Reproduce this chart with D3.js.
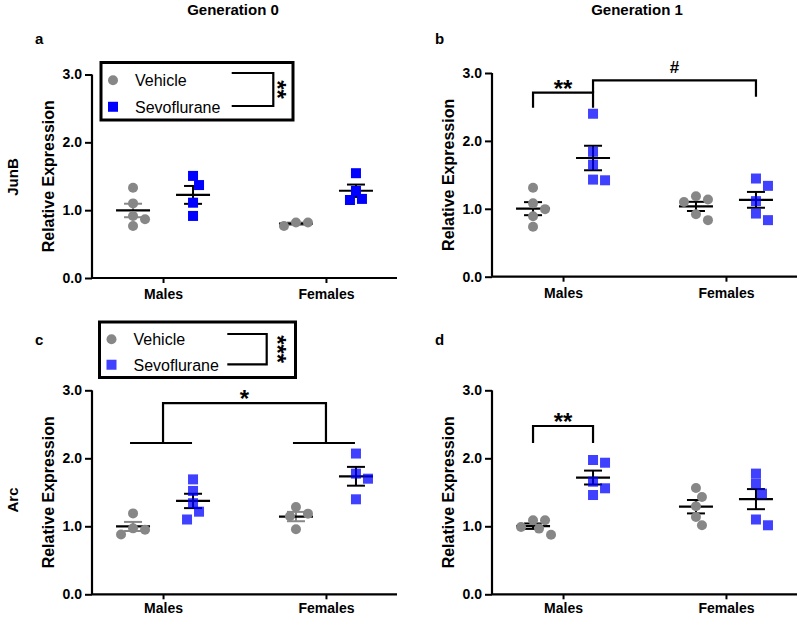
<!DOCTYPE html>
<html>
<head>
<meta charset="utf-8">
<script src="https://cdn.jsdelivr.net/npm/d3@7"></script>
<style>
body { margin: 0; background: #fff; }
svg { display: block; font-family: Arial, "Liberation Sans", sans-serif; }
</style>
</head>
<body>
<svg id="fig" width="800" height="617"></svg>
<script>
// categories, groups and labels
var categories = ["Males", "Females"];
var groupNames = ["Vehicle", "Sevoflurane"];
var yTicks = [0, 1, 2, 3];
var genTitles = ["Generation 0", "Generation 1"];
var geneNames = ["JunB", "Arc"];
var panelLetters = ["a", "b", "c", "d"];

// relative expression, one value per animal
var aMalesVehicle = [1.33, 1.10, 0.915, 0.866, 0.767];
var aMalesSevo = [1.505, 1.37, 1.11, 0.915];
var aFemalesVehicle = [0.817, 0.767, 0.817];
var aFemalesSevo = [1.545, 1.284, 1.166, 1.15];

var bMalesVehicle = [1.31, 1.08, 0.995, 0.89, 0.735];
var bMalesSevo = [2.40, 1.84, 1.65, 1.43, 1.42];
var bFemalesVehicle = [1.186, 1.137, 1.10, 0.92, 0.833];
var bFemalesSevo = [1.446, 1.338, 1.113, 0.93, 0.833];

var cMalesVehicle = [1.19, 0.97, 0.95, 0.88];
var cMalesSevo = [1.69, 1.52, 1.34, 1.215, 1.10];
var cFemalesVehicle = [1.284, 1.186, 1.147, 0.956];
var cFemalesSevo = [2.07, 1.775, 1.70, 1.397];

var dMalesVehicle = [1.088, 1.088, 0.99, 0.966, 0.877];
var dMalesSevo = [1.975, 1.935, 1.656, 1.559, 1.46];
var dFemalesVehicle = [1.564, 1.43, 1.294, 1.137, 1.015];
var dFemalesSevo = [1.775, 1.627, 1.48, 1.10, 1.015];

// significance brackets (heights in relative expression units)
var bBrackets = [
  {from: ["Males", 0], to: ["Males", 1], top: 2.71, legs: [2.49, 2.49], label: "**"},
  {from: ["Males", 1], to: ["Females", 1], top: 2.89, legs: [2.71, 2.65], label: "#"}
];
var cBrackets = [
  {from: ["Males", -1], to: ["Females", -1], top: 2.81, legs: [2.225, 2.225], label: "*", under: true}
];
var dBrackets = [
  {from: ["Males", 0], to: ["Males", 1], top: 2.475, legs: [2.225, 2.225], label: "**"}
];
var legendStars = ["**", "***"];

var gray = "#878787";
var blue = "#0000ff";

var panels = [
  {left: 92, top: 74.5, bottom: 278, values: [[aMalesVehicle, aMalesSevo], [aFemalesVehicle, aFemalesSevo]],
   brackets: [], blueOpacity: 1, vehBar: gray, padX: 6,
   legend: {x: 101, y: 62.5, w: 192, h: 57.5, bx1: 231.7, bx2: 273.3, by1: 73, by2: 106, sx: 282.5, stars: legendStars[0]}},
  {left: 492, top: 73, bottom: 276.7, values: [[bMalesVehicle, bMalesSevo], [bFemalesVehicle, bFemalesSevo]],
   brackets: bBrackets, blueOpacity: 0.75, vehBar: "#000", padX: 6},
  {left: 92, top: 390.3, bottom: 594.3, values: [[cMalesVehicle, cMalesSevo], [cFemalesVehicle, cFemalesSevo]],
   brackets: cBrackets, blueOpacity: 0.75, vehBar: gray, padX: 4,
   legend: {x: 99.5, y: 322, w: 196, h: 55.5, bx1: 227.3, bx2: 266.7, by1: 334, by2: 364.3, sx: 282, stars: legendStars[1]}},
  {left: 492, top: 390.3, bottom: 594.3, values: [[dMalesVehicle, dMalesSevo], [dFemalesVehicle, dFemalesSevo]],
   brackets: dBrackets, blueOpacity: 0.75, vehBar: "#000", padX: 4}
];

var svg = d3.select("#fig");
var axisWidth = 305;
var groupShift = 30;
var dotSize = 10;

// simple swarm: spread points that would overlap onto half-steps either side
function swarm(vals, y) {
  var sorted = vals.slice().sort(function(p, q) { return q - p; });
  var placed = [];
  var steps = [0, 6, -6, 12, -12, 18, -18];
  sorted.forEach(function(v) {
    var py = y(v);
    for (var i = 0; i < steps.length; i++) {
      var ok = placed.every(function(p) {
        return Math.hypot(p.dx - steps[i], p.y - py) >= dotSize;
      });
      if (ok || i == steps.length - 1) { placed.push({v: v, y: py, dx: steps[i]}); break; }
    }
  });
  return placed;
}

// column titles
genTitles.forEach(function(t, i) {
  svg.append("text")
    .attr("x", [233, 637][i]).attr("y", 15)
    .attr("text-anchor", "middle")
    .style("font-size", "15px").style("font-weight", "bold")
    .text(t);
});

panels.forEach(function(p, pi) {
  var g = svg.append("g");
  var x = d3.scalePoint().domain(categories).range([p.left, p.left + axisWidth]).padding(0.436);
  var y = d3.scaleLinear().domain([0, 3]).range([p.bottom, p.top]);
  var gx = function(cat, k) { return x(cat) + (k < 0 ? 0 : (k == 0 ? -groupShift : groupShift)); };

  // axes
  var yAxis = g.append("g")
    .attr("transform", "translate(" + p.left + ",0)")
    .call(d3.axisLeft(y).tickValues(yTicks).tickFormat(d3.format(".1f")).tickSizeOuter(0).tickSize(7).tickPadding(3));
  var xAxis = g.append("g")
    .attr("transform", "translate(0," + p.bottom + ")")
    .call(d3.axisBottom(x).tickSizeOuter(0).tickSize(5).tickPadding(p.padX));
  [yAxis, xAxis].forEach(function(a) {
    a.select(".domain").attr("stroke", "#000").attr("stroke-width", 2.2);
    a.selectAll(".tick line").attr("stroke", "#000").attr("stroke-width", 2);
    a.selectAll("text").attr("fill", "#000").style("font-size", "14px").style("font-weight", "bold")
      .style("font-family", "Arial, 'Liberation Sans', sans-serif");
  });
  xAxis.select(".domain").attr("d", "M" + p.left + ",0H" + (p.left + axisWidth));
  yAxis.select(".domain").attr("d", "M0," + p.bottom + "V" + p.top);

  // axis title
  g.append("text")
    .attr("transform", "translate(" + (p.left - 38) + "," + ((p.top + p.bottom) / 2) + ") rotate(-90)")
    .attr("text-anchor", "middle")
    .style("font-size", "16px").style("font-weight", "bold")
    .text("Relative Expression");

  // panel letter
  svg.append("text")
    .attr("x", p.left - 57).attr("y", pi < 2 ? 44 : 345)
    .style("font-size", "15px").style("font-weight", "bold")
    .text(panelLetters[pi]);

  // groups: mean, SEM and points
  categories.forEach(function(cat, ci) {
    p.values[ci].forEach(function(vals, k) {
      var cx = gx(cat, k);
      var m = d3.mean(vals);
      var sem = d3.deviation(vals) / Math.sqrt(vals.length);
      var barColor = k == 0 ? p.vehBar : "#000";
      g.append("line").attr("x1", cx).attr("x2", cx).attr("y1", y(m - sem)).attr("y2", y(m + sem))
        .attr("stroke", barColor).attr("stroke-width", 2);
      [m - sem, m + sem].forEach(function(v) {
        g.append("line").attr("x1", cx - 9).attr("x2", cx + 9).attr("y1", y(v)).attr("y2", y(v))
          .attr("stroke", barColor).attr("stroke-width", 2);
      });
      g.append("line").attr("x1", cx - 17).attr("x2", cx + 17).attr("y1", y(m)).attr("y2", y(m))
        .attr("stroke", "#000").attr("stroke-width", 2.2);

      var pts = swarm(vals, y);
      if (k == 0) {
        g.selectAll(null).data(pts).enter().append("circle")
          .attr("cx", function(d) { return cx + d.dx; })
          .attr("cy", function(d) { return d.y; })
          .attr("r", dotSize / 2)
          .attr("fill", gray);
      } else {
        g.selectAll(null).data(pts).enter().append("rect")
          .attr("x", function(d) { return cx + d.dx - dotSize / 2; })
          .attr("y", function(d) { return d.y - dotSize / 2; })
          .attr("width", dotSize).attr("height", dotSize)
          .attr("fill", blue).attr("fill-opacity", p.blueOpacity);
      }
    });
  });

  // significance brackets
  p.brackets.forEach(function(b) {
    var x1 = gx(b.from[0], b.from[1]), x2 = gx(b.to[0], b.to[1]);
    var path = d3.path();
    path.moveTo(x1, y(b.legs[0]));
    path.lineTo(x1, y(b.top));
    path.lineTo(x2, y(b.top));
    path.lineTo(x2, y(b.legs[1]));
    if (b.under) {
      [b.from[0], b.to[0]].forEach(function(cat) {
        path.moveTo(gx(cat, 0) - 3, y(b.legs[0]));
        path.lineTo(gx(cat, 1) - 1, y(b.legs[0]));
      });
    }
    g.append("path").attr("d", path.toString()).attr("fill", "none")
      .attr("stroke", "#000").attr("stroke-width", 2.2);
    var isStar = b.label.indexOf("*") >= 0;
    g.append("text")
      .attr("x", (x1 + x2) / 2).attr("y", y(b.top) - (isStar ? -4 : 7))
      .attr("text-anchor", "middle")
      .style("font-size", isStar ? "24px" : "17px").style("font-weight", "bold")
      .text(b.label);
  });

  // legend box with main-effect bracket
  if (p.legend) {
    var L = p.legend;
    g.append("rect").attr("x", L.x).attr("y", L.y).attr("width", L.w).attr("height", L.h)
      .attr("fill", "#fff").attr("stroke", "#000").attr("stroke-width", 3);
    var r1 = L.y + L.h * 0.31, r2 = L.y + L.h * 0.77;
    g.append("circle").attr("cx", L.x + 12).attr("cy", r1).attr("r", dotSize / 2).attr("fill", gray);
    g.append("rect").attr("x", L.x + 12 - dotSize / 2).attr("y", r2 - dotSize / 2)
      .attr("width", dotSize).attr("height", dotSize)
      .attr("fill", blue).attr("fill-opacity", p.blueOpacity);
    groupNames.forEach(function(name, i) {
      g.append("text").attr("x", L.x + 34).attr("y", (i == 0 ? r1 : r2) + 6)
        .style("font-size", "16px").text(name);
    });
    g.append("path")
      .attr("d", "M" + L.bx1 + "," + L.by1 + "H" + L.bx2 + "V" + L.by2 + "H" + L.bx1)
      .attr("fill", "none").attr("stroke", "#000").attr("stroke-width", 2.2);
    g.append("text")
      .attr("transform", "translate(" + (L.sx - 13.5) + "," + ((L.by1 + L.by2) / 2) + ") rotate(90)")
      .attr("text-anchor", "middle")
      .style("font-size", "24px").style("font-weight", "bold")
      .text(L.stars);
  }
});

// row labels
geneNames.forEach(function(t, i) {
  svg.append("text")
    .attr("transform", "translate(18," + [177, 500][i] + ") rotate(-90)")
    .attr("text-anchor", "middle")
    .style("font-size", "15px").style("font-weight", "bold")
    .text(t);
});
</script>
</body>
</html>
